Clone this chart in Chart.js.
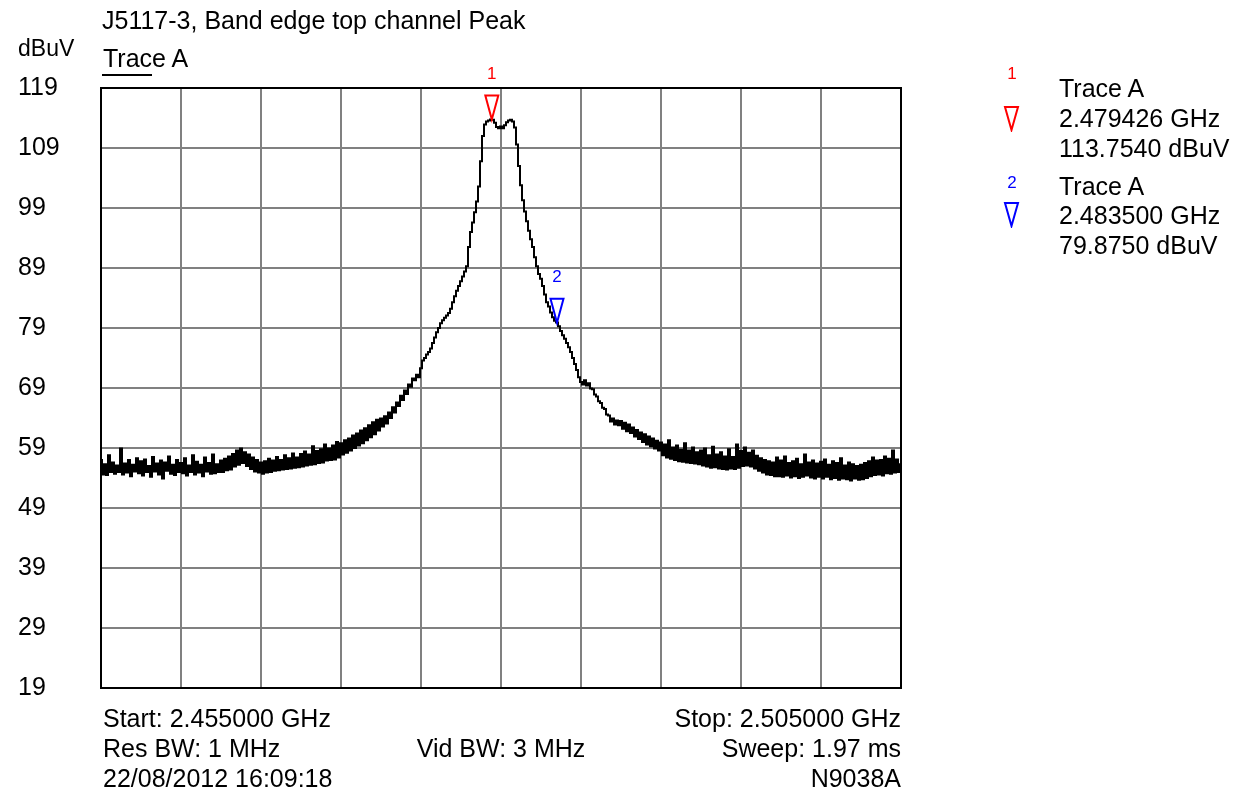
<!DOCTYPE html>
<html>
<head>
<meta charset="utf-8">
<title>J5117-3, Band edge top channel Peak</title>
<script src="https://cdn.jsdelivr.net/npm/chart.js@4.4.0/dist/chart.umd.min.js"></script>
<style>
  body { margin: 0; background: #fff; }
  #wrap { position: relative; width: 1247px; height: 803px; font-family: "Liberation Sans", Arial, sans-serif; color: #000; }
  #wrap canvas { position: absolute; left: 0; top: 0; }
  .t { position: absolute; font-size: 25px; line-height: 30px; white-space: nowrap; }
  .r { text-align: right; }
  .c { text-align: center; }
  .num { position: absolute; font-size: 17px; line-height: 20px; width: 20px; text-align: center; }
  svg { position: absolute; }
</style>
</head>
<body>
<div id="wrap">
  <canvas id="chart" width="1247" height="803"></canvas>

  <div class="t" style="left:102px; top:5px;">J5117-3, Band edge top channel Peak</div>
  <div class="t" style="left:18px; top:33px; font-size:23px;">dBuV</div>
  <div class="t" style="left:103px; top:43px;">Trace A</div>
  <div style="position:absolute; left:102px; top:74px; width:50px; height:2px; background:#000;"></div>

  <!-- marker tablosu (sağ taraf) -->
  <div class="num" style="left:1002px; top:64px; color:#ff0000;">1</div>
  <svg style="left:1003px; top:105px;" width="17" height="27"><polygon points="2,2 15,2 8.5,25" fill="none" stroke="#ff0000" stroke-width="2"/></svg>
  <div class="t" style="left:1059px; top:73px;">Trace A</div>
  <div class="t" style="left:1059px; top:103px;">2.479426 GHz</div>
  <div class="t" style="left:1059px; top:133px;">113.7540 dBuV</div>

  <div class="num" style="left:1002px; top:173px; color:#0000ff;">2</div>
  <svg style="left:1003px; top:201px;" width="17" height="27"><polygon points="2,2 15,2 8.5,25" fill="none" stroke="#0000ff" stroke-width="2"/></svg>
  <div class="t" style="left:1059px; top:171px;">Trace A</div>
  <div class="t" style="left:1059px; top:200px;">2.483500 GHz</div>
  <div class="t" style="left:1059px; top:230px;">79.8750 dBuV</div>

  <!-- alt bilgi satırları -->
  <div class="t" style="left:103px; top:703px;">Start: 2.455000 GHz</div>
  <div class="t r" style="left:601px; width:300px; top:703px;">Stop: 2.505000 GHz</div>
  <div class="t" style="left:103px; top:733px;">Res BW: 1 MHz</div>
  <div class="t c" style="left:351px; width:300px; top:733px;">Vid BW: 3 MHz</div>
  <div class="t r" style="left:601px; width:300px; top:733px;">Sweep: 1.97 ms</div>
  <div class="t" style="left:103px; top:763px;">22/08/2012 16:09:18</div>
  <div class="t r" style="left:601px; width:300px; top:763px;">N9038A</div>
</div>

<script>
// sweep ayarları (MHz)
const startMHz = 2455;
const stepMHz = 0.125;

// Trace A seviyeleri (dBuV), 401 nokta
const traceLevels = [
  57.0, 54.6, 56.3, 54.5, 57.8, 55.0, 56.6, 54.7, 56.1, 55.0, 58.9, 54.6, 56.4, 54.9, 57.0, 54.3, 56.2, 55.1, 57.3, 54.8,
  56.8, 54.4, 57.1, 55.0, 56.0, 54.2, 57.5, 55.1, 56.4, 54.6, 56.9, 53.9, 56.6, 55.2, 57.6, 54.7, 56.2, 54.5, 57.0, 55.0,
  56.5, 54.8, 57.3, 54.4, 56.1, 55.0, 57.8, 54.6, 56.7, 54.9, 56.2, 54.3, 57.4, 55.1, 56.5, 54.7, 57.9, 54.8, 56.3, 55.0,
  56.9, 55.0, 57.2, 55.3, 57.6, 55.4, 58.0, 55.9, 58.6, 56.2, 58.9, 56.5, 58.3, 56.0, 57.9, 55.5, 57.4, 55.1, 57.0, 54.9,
  56.6, 54.7, 56.8, 54.9, 57.2, 55.0, 56.9, 55.2, 57.5, 55.3, 57.0, 55.4, 57.8, 55.5, 57.3, 55.6, 58.1, 55.7, 57.4, 55.8,
  58.0, 55.9, 58.4, 56.1, 57.9, 56.2, 59.3, 56.3, 58.5, 56.5, 58.8, 56.6, 59.6, 56.9, 58.9, 57.0, 59.4, 57.1, 60.0, 57.4,
  59.8, 57.9, 60.3, 58.2, 60.6, 58.6, 61.1, 59.0, 61.4, 59.4, 61.9, 59.8, 62.3, 60.3, 62.8, 60.8, 63.3, 61.3, 63.7, 61.9,
  63.9, 62.6, 64.3, 63.1, 64.9, 64.0, 65.8, 64.9, 66.6, 66.0, 67.7, 67.0, 68.6, 68.0, 69.6, 69.2, 70.6, 70.3, 71.2, 70.8,
  72.3, 73.6, 74.0, 74.6, 75.0, 75.6, 76.5, 77.4, 78.3, 79.0, 79.8, 80.3, 80.7, 81.1, 81.5, 82.2, 83.3, 84.3, 85.2, 86.0,
  86.8, 87.6, 88.4, 89.3, 92.5, 95.0, 96.6, 98.3, 100.1, 102.6, 106.8, 111.0, 112.9, 113.4, 113.6, 113.75, 113.7, 113.2, 112.5, 112.3,
  112.6, 112.3, 112.8, 113.3, 113.6, 113.7, 113.4, 112.4, 109.6, 106.0, 102.8, 100.3, 98.4, 96.8, 95.2, 93.8, 92.5, 90.8, 89.3, 88.0,
  87.2, 86.0, 84.6, 83.3, 82.6, 81.6, 80.8, 80.2, 79.9, 79.3, 78.5, 77.8, 77.2, 76.5, 75.8, 75.0, 74.0, 73.0, 72.0, 70.8,
  70.0, 69.6, 70.3, 69.4, 69.8, 68.9, 68.8, 67.9, 67.6, 66.8, 66.5, 65.7, 65.5, 64.6, 64.4, 63.4, 63.9, 62.9, 63.6, 62.8,
  63.5, 62.2, 63.2, 61.8, 62.9, 61.5, 62.4, 60.9, 62.0, 60.5, 61.6, 60.0, 61.3, 59.6, 60.9, 59.3, 60.6, 58.9, 60.2, 58.6,
  59.9, 57.8, 59.6, 57.4, 60.3, 57.2, 59.1, 57.0, 59.4, 56.8, 58.7, 56.7, 59.8, 56.6, 58.6, 56.5, 59.1, 56.4, 58.3, 56.3,
  58.6, 56.1, 58.9, 55.9, 57.8, 55.7, 59.2, 55.8, 57.9, 55.6, 58.3, 55.5, 57.6, 55.4, 58.8, 55.6, 57.5, 55.5, 59.6, 55.7,
  58.5, 56.0, 59.1, 56.1, 58.2, 55.9, 58.6, 55.6, 57.7, 55.2, 57.3, 54.9, 57.0, 54.6, 56.8, 54.5, 56.6, 54.3, 57.4, 54.3,
  56.9, 54.2, 57.6, 54.4, 56.5, 54.1, 56.8, 54.3, 57.2, 54.0, 56.3, 54.2, 57.9, 54.4, 56.6, 54.1, 56.9, 53.9, 56.4, 54.2,
  56.7, 53.9, 57.1, 54.2, 56.2, 53.8, 56.8, 54.0, 56.5, 53.7, 57.3, 53.9, 56.1, 53.8, 56.6, 53.6, 56.3, 53.9, 56.0, 53.7,
  56.2, 53.8, 56.5, 54.0, 56.8, 54.3, 57.4, 54.5, 56.9, 54.6, 57.0, 54.4, 57.6, 54.8, 57.2, 54.7, 58.6, 54.9, 57.1, 55.0,
  56.3
];

// eksen çizgileri
const xTicks = [2455, 2460, 2465, 2470, 2475, 2480, 2485, 2490, 2495, 2500, 2505];
const yTicks = [19, 29, 39, 49, 59, 69, 79, 89, 99, 109, 119];

// markerlar
const markerNames = ['1', '2'];
const markerFreqs = [2479.426, 2483.5];
const markerLevels = [113.754, 79.875];
const markerColors = ['#ff0000', '#0000ff'];

const points = traceLevels.map((v, i) => ({ x: startMHz + i * stepMHz, y: v }));

const frameAndMarkers = {
    id: 'frameAndMarkers',
    beforeDatasetsDraw(chart) {
        const { ctx, chartArea: a } = chart;
        ctx.save();
        ctx.strokeStyle = '#000';
        ctx.lineWidth = 2;
        ctx.strokeRect(a.left, a.top, a.right - a.left, a.bottom - a.top);
        ctx.restore();
    },
    afterDatasetsDraw(chart) {
        const { ctx, scales } = chart;
        ctx.save();
        markerFreqs.forEach((f, i) => {
            const px = scales.x.getPixelForValue(f);
            const py = scales.y.getPixelForValue(markerLevels[i]);
            ctx.strokeStyle = markerColors[i];
            ctx.lineWidth = 2;
            ctx.beginPath();
            ctx.moveTo(px - 6.5, py - 24);
            ctx.lineTo(px + 6.5, py - 24);
            ctx.lineTo(px, py);
            ctx.closePath();
            ctx.stroke();
            ctx.fillStyle = markerColors[i];
            ctx.font = '17px "Liberation Sans", Arial, sans-serif';
            ctx.textAlign = 'center';
            ctx.textBaseline = 'middle';
            ctx.fillText(markerNames[i], px, py - 45);
        });
        ctx.restore();
    }
};

new Chart(document.getElementById('chart'), {
    type: 'line',
    data: {
        datasets: [{
            label: 'Trace A',
            data: points,
            borderColor: '#000',
            borderWidth: 2,
            pointRadius: 0,
            tension: 0,
            stepped: 'middle'
        }]
    },
    options: {
        responsive: false,
        animation: false,
        events: [],
        layout: { padding: { left: 18, top: 88, right: 346, bottom: 115 } },
        plugins: { legend: { display: false }, tooltip: { enabled: false } },
        scales: {
            x: {
                type: 'linear',
                min: 2455,
                max: 2505,
                afterBuildTicks: s => { s.ticks = xTicks.map(v => ({ value: v })); },
                afterFit: s => { s.height = 0; },
                ticks: { display: false },
                grid: { color: '#808080', lineWidth: 2, drawTicks: false },
                border: { display: false }
            },
            y: {
                type: 'linear',
                min: 19,
                max: 119,
                afterBuildTicks: s => { s.ticks = yTicks.map(v => ({ value: v })); },
                afterFit: s => { s.width = 83; },
                ticks: {
                    crossAlign: 'far',
                    color: '#000',
                    font: { family: '"Liberation Sans", Arial, sans-serif', size: 25 }
                },
                grid: { color: '#808080', lineWidth: 2, drawTicks: false },
                border: { display: false }
            }
        }
    },
    plugins: [frameAndMarkers]
});
</script>
</body>
</html>
